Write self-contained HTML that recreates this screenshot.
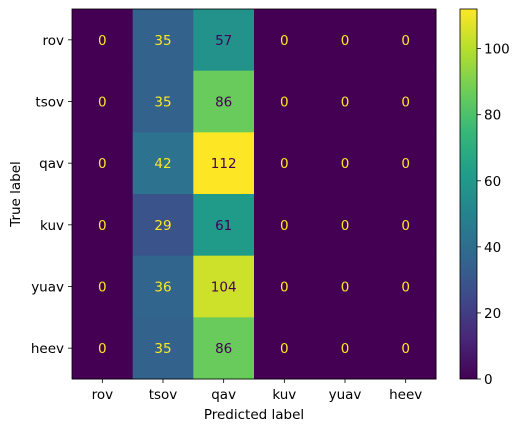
<!DOCTYPE html>
<html><head><meta charset="utf-8"><style>
body{margin:0;background:#fff}
svg text{font-family:"DejaVu Sans","Liberation Sans",sans-serif;font-size:13.5px}
</style></head><body>
<svg id="c" width="532" height="432"></svg>
<script>
const labels=["rov","tsov","qav","kuv","yuav","heev"];
const row0=[0,35,57,0,0,0];
const row1=[0,35,86,0,0,0];
const row2=[0,42,112,0,0,0];
const row3=[0,29,61,0,0,0];
const row4=[0,36,104,0,0,0];
const row5=[0,35,86,0,0,0];
const rows=[row0,row1,row2,row3,row4,row5];
const cbTicks=[0,20,40,60,80,100];

const svg=document.getElementById('c');
const NS="http://www.w3.org/2000/svg";
function mk(t,a,p){const e=document.createElementNS(NS,t);for(const k in a)e.setAttribute(k,a[k]);(p||svg).appendChild(e);return e;}
const L=72,R=436,T=9,B=379;
const vmin=0,vmax=Math.max(...rows.flat());
const cw=(R-L)/labels.length,ch=(B-T)/labels.length;
const vir=[[68,1,84],[72,40,120],[62,74,137],[49,104,142],[38,130,142],[31,158,137],[53,183,121],[109,205,89],[180,222,44],[253,231,37]];
function color(v){let t=(v-vmin)/(vmax-vmin);t=Math.max(0,Math.min(1,t))*(vir.length-1);const i=Math.min(Math.floor(t),vir.length-2),f=t-i;const c=vir[i].map((x,k)=>Math.round(x+(vir[i+1][k]-x)*f));return`rgb(${c})`;}
const xs=j=>L+cw*(j+0.5), ys=i=>T+ch*(i+0.5);
rows.forEach((r,i)=>r.forEach((v,j)=>{
 const rc=mk('rect',{x:L+cw*j,y:T+ch*i,width:cw+0.5,height:ch+0.5,fill:color(v)});
 
 
 const tx=mk('text',{x:xs(j),y:ys(i)+5,'text-anchor':'middle',fill:v>=(vmax+vmin)/2?'#440154':'#fde725'});
 tx.textContent=v;
 
 
}));
mk('rect',{x:L,y:T,width:R-L,height:B-T,fill:'none',stroke:'#000','stroke-width':0.8});
labels.forEach((l,j)=>{
 mk('line',{x1:xs(j),x2:xs(j),y1:B,y2:B+4,stroke:'#000','stroke-width':0.8});
 const t=mk('text',{x:xs(j),y:B+20,'text-anchor':'middle',fill:'#000'});t.textContent=l;
 
 
 mk('line',{x1:L-4,x2:L,y1:ys(j),y2:ys(j),stroke:'#000','stroke-width':0.8});
 const u=mk('text',{x:L-8,y:ys(j)+5,'text-anchor':'end',fill:'#000'});u.textContent=l;
 
 
});
const xt=mk('text',{x:(L+R)/2,y:419,'text-anchor':'middle',fill:'#000'});xt.textContent='Predicted label';


const yt=mk('text',{x:0,y:0,'text-anchor':'middle',fill:'#000',transform:`translate(20,${(T+B)/2}) rotate(-90)`});yt.textContent='True label';


// colorbar
const CL=460,CR=477;
const g=mk('defs',{});
const lg=mk('linearGradient',{id:'vg',x1:0,y1:1,x2:0,y2:0},g);
vir.forEach((c,k)=>mk('stop',{offset:k/(vir.length-1),'stop-color':`rgb(${c})`},lg));
const cb=mk('rect',{x:CL,y:T,width:CR-CL,height:B-T,fill:'url(#vg)',stroke:'#000','stroke-width':0.8});


const cy=v=>B-(v-vmin)/(vmax-vmin)*(B-T);
cbTicks.forEach(v=>{
 mk('line',{x1:CR,x2:CR+4,y1:cy(v),y2:cy(v),stroke:'#000','stroke-width':0.8});
 const t=mk('text',{x:CR+7,y:cy(v)+5,fill:'#000'});t.textContent=v;
 
 
});
</script>
</body></html>
